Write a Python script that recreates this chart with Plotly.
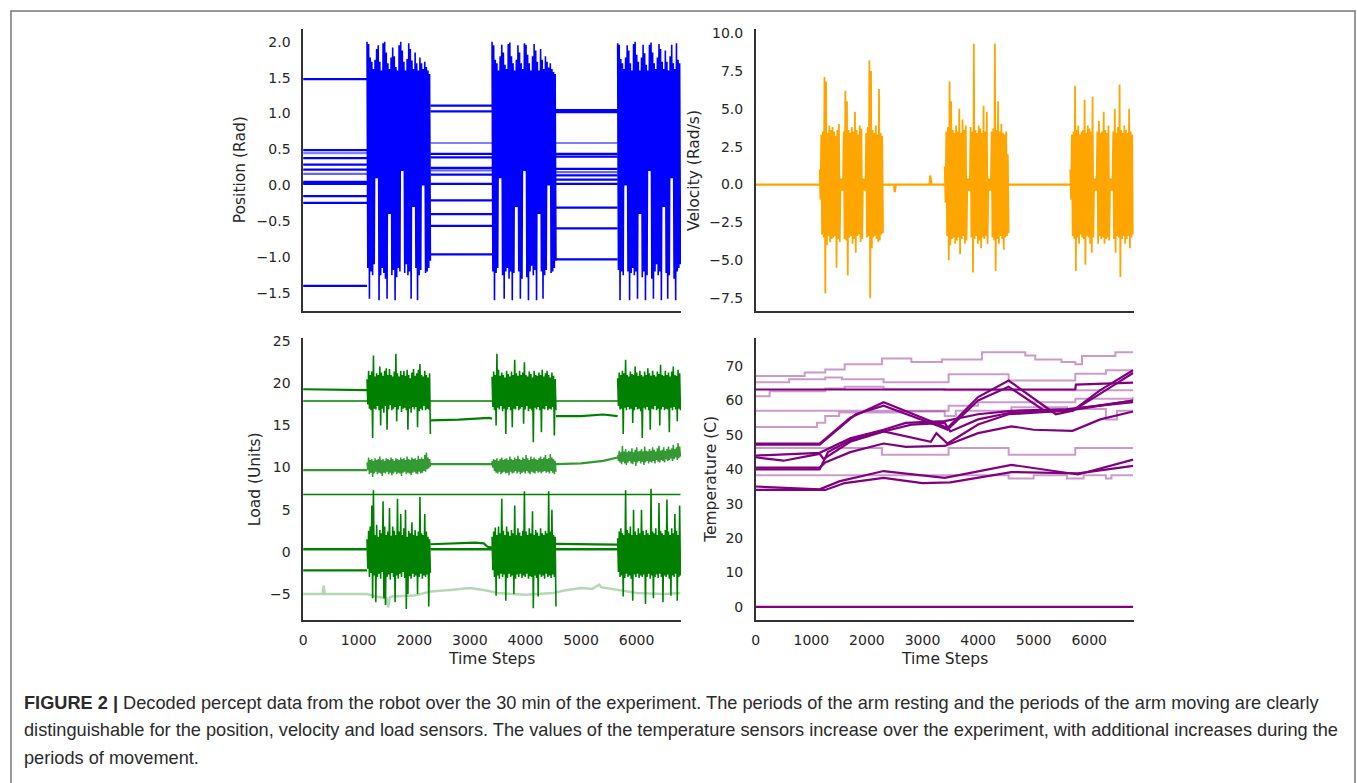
import numpy as np
import plotly.graph_objects as go

W, H = 1357, 783

# ---------------- time structure (time steps) ----------------
rest_periods = [(0, 1150), (2290, 3400), (4550, 5660)]
burst_periods = [(1150, 2290), (3400, 4550), (5660, 6790)]

# ---------------- Position (Rad) ----------------
pos_rest_levels = [
    [1.48, 1.11, 1.05],
    [0.49, 1.03, 1.02],
    [0.45, 0.59, 0.59],
    [0.38, 0.44, 0.44],
    [0.29, 0.39, 0.40],
    [0.22, 0.245, 0.23],
    [0.16, 0.21, 0.185],
    [0.05, 0.15, 0.14],
    [0.02, 0.02, 0.08],
    [0.03, -0.21, 0.02],
    [-0.15, -0.40, -0.31],
    [-0.245, -0.565, -0.60],
    [-1.40, -0.96, -1.03],
]
pos_rest_alpha = [1, 1, 0.5, 1, 1, 1, 0.6, 1, 1, 1, 1, 1, 1]

pos_burst_hi = [
    [2.00, 1.97, 1.78, 1.72, 1.62, 1.75, 1.90, 1.95, 1.72, 1.60, 1.98, 2.00, 1.85, 1.70, 1.62, 1.78, 1.92, 1.80, 1.65, 1.60,
     1.95, 2.00, 1.88, 1.72, 1.60, 1.76, 1.98, 1.90, 1.74, 1.62, 1.85, 1.70, 1.60, 1.78, 1.70, 1.62, 1.72, 1.65, 1.60, 1.55],
    [2.00, 1.95, 1.75, 1.70, 1.60, 1.80, 1.96, 1.85, 1.68, 1.62, 1.97, 1.99, 1.80, 1.70, 1.60, 1.75, 1.95, 1.85, 1.70, 1.62,
     1.98, 1.96, 1.82, 1.70, 1.60, 1.80, 1.97, 1.88, 1.72, 1.60, 1.90, 1.75, 1.62, 1.80, 1.72, 1.64, 1.70, 1.62, 1.58, 1.55],
    [1.98, 1.96, 1.76, 1.70, 1.62, 1.78, 1.95, 1.88, 1.70, 1.60, 1.97, 2.00, 1.82, 1.72, 1.60, 1.78, 1.96, 1.84, 1.68, 1.60,
     1.96, 1.99, 1.85, 1.70, 1.62, 1.78, 1.97, 1.90, 1.72, 1.62, 1.88, 1.72, 1.60, 1.80, 1.96, 1.70, 1.62, 1.98, 1.75, 1.70],
]
pos_burst_lo = [
    [-1.15, -1.58, -1.20, -1.25, -1.10, 0.10, 0.10, -1.60, -1.25, -1.15, -1.22, -1.30, -1.58, -0.40, -0.40, -1.25, -1.18, -1.60, -1.28, -1.15,
     -1.20, 0.20, 0.20, -1.22, -1.10, -1.25, -1.20, -1.58, -0.30, -0.30, -1.15, -1.60, -1.25, -1.18, 0.00, 0.00, -1.22, -1.20, -1.15, -1.05],
    [-1.20, -1.60, -1.22, -1.15, 0.10, 0.10, -1.25, -1.58, -1.20, -1.15, -1.30, -1.20, -1.60, -1.22, -0.30, -0.30, -1.20, -1.58, -1.30, 0.20,
     0.20, -1.28, -1.60, -1.20, -1.12, -1.25, -1.18, -1.60, -0.40, -0.40, -1.20, -1.58, -1.25, -1.18, 0.00, 0.00, -1.22, -1.20, -1.15, -1.05],
    [-1.18, -1.60, -1.20, -1.25, 0.00, 0.00, -1.20, -1.60, -1.22, -1.15, -1.25, -1.20, -1.58, -0.40, -0.40, -1.28, -1.20, -1.60, -1.25, 0.20,
     0.20, -1.30, -1.58, -1.20, -1.10, -1.25, -1.20, -1.60, -0.30, -0.30, -1.22, -1.58, -1.25, 0.10, 0.10, -1.30, -1.60, -1.20, -1.15, -1.10],
]

# ---------------- Velocity (Rad/s) ----------------
vel_rest_times = [[0, 1150], [2290, 2490, 2500, 2520, 3130, 3140, 3160, 3400], [4550, 5660]]
vel_rest_values = [[0, 0], [0, 0, -0.5, 0, 0, 0.6, 0, 0], [0, 0]]

vel_burst_hi = [
    [1.0, 3.3, 3.5, 7.1, 6.8, 3.4, 3.9, 3.6, 3.8, 3.5, 3.2, 3.6, 4.0, 0.4, 0.4, 3.5, 6.2, 5.5, 3.6, 3.4,
     3.8, 3.5, 4.8, 3.6, 3.3, 3.9, 3.7, 0.4, 0.4, 3.4, 3.8, 8.2, 7.5, 3.6, 3.4, 3.9, 3.3, 6.3, 3.4, 3.2],
    [1.2, 3.5, 3.8, 6.8, 5.5, 3.6, 3.4, 3.9, 3.5, 5.0, 3.4, 4.3, 3.6, 3.9, 0.4, 0.4, 3.8, 3.5, 9.3, 3.6,
     3.4, 3.9, 3.7, 3.4, 5.2, 3.5, 4.8, 0.4, 0.4, 3.5, 3.7, 9.3, 3.6, 5.5, 3.5, 4.0, 3.4, 3.3, 3.5, 2.0],
    [1.0, 3.3, 3.5, 6.5, 3.6, 3.9, 3.3, 3.5, 3.6, 5.6, 3.4, 3.9, 3.7, 3.5, 5.8, 0.4, 0.4, 3.5, 4.2, 3.4,
     3.5, 4.8, 3.6, 3.4, 3.9, 0.4, 0.4, 3.5, 5.0, 3.4, 3.8, 6.6, 3.6, 3.4, 3.9, 3.6, 3.4, 5.0, 3.5, 3.3],
]
vel_burst_lo = [
    [-1.0, -3.3, -3.5, -7.2, -4.0, -3.4, -3.8, -3.6, -3.5, -3.4, -5.5, -3.6, -3.8, -0.4, -0.4, -3.6, -3.7, -6.0, -3.5, -3.4,
     -3.9, -3.6, -4.5, -3.4, -3.3, -3.8, -3.6, -0.4, -0.4, -3.5, -3.4, -7.5, -4.2, -3.5, -3.4, -3.6, -3.8, -3.7, -3.3, -3.2],
    [-1.2, -3.4, -5.0, -4.0, -3.6, -3.5, -3.9, -3.7, -3.5, -4.6, -3.6, -3.4, -3.9, -3.7, -0.4, -0.4, -3.5, -5.8, -3.6, -3.4,
     -3.9, -3.7, -4.2, -3.5, -3.6, -3.4, -3.9, -0.4, -0.4, -3.5, -3.7, -5.7, -3.6, -3.9, -3.4, -3.6, -4.3, -3.5, -3.4, -3.2],
    [-1.0, -3.4, -3.6, -5.7, -3.5, -3.9, -3.3, -3.5, -3.6, -5.3, -3.4, -3.5, -3.9, -4.5, -3.5, -0.4, -0.4, -3.9, -3.4, -3.6,
     -3.5, -3.9, -3.6, -3.5, -3.7, -0.4, -0.4, -3.6, -4.5, -3.4, -3.5, -6.1, -3.6, -3.4, -3.9, -3.6, -3.4, -4.2, -3.5, -3.3],
]

# ---------------- Load (Units) ----------------
load_flat_levels = [17.9, 6.8]

load_top_rest_times = [[0, 1150], [2290, 2800, 3350, 3400], [4550, 5000, 5400, 5660]]
load_top_rest_values = [[19.3, 19.2], [15.6, 15.7, 15.9, 15.8], [16.1, 16.1, 16.3, 16.1]]
load_top_hi = [
    [20.5, 21.5, 21.0, 21.4, 23.3, 20.8, 21.2, 21.0, 22.0, 21.3, 20.9, 21.5, 21.8, 21.0, 21.7, 21.0, 20.8, 21.4, 23.5, 21.2,
     20.8, 21.5, 21.0, 21.5, 20.9, 21.6, 21.0, 20.6, 21.3, 21.7, 20.9, 21.2, 21.6, 22.3, 21.0, 20.8, 21.5, 21.0, 20.7, 21.2],
    [20.8, 21.4, 21.0, 23.5, 21.6, 20.9, 21.3, 21.0, 20.7, 21.5, 21.1, 20.8, 21.4, 21.0, 22.8, 21.2, 20.9, 21.5, 21.0, 21.3,
     22.5, 21.0, 20.8, 21.4, 21.1, 20.7, 21.5, 21.0, 20.9, 21.3, 21.0, 21.6, 20.8, 21.2, 21.5, 21.0, 20.7, 21.3, 20.9, 20.5],
    [20.6, 21.3, 21.0, 21.5, 21.2, 22.8, 21.0, 20.8, 21.4, 21.1, 21.0, 22.0, 21.3, 20.9, 21.5, 21.0, 20.8, 21.4, 21.0, 21.8,
     21.2, 20.9, 21.5, 21.0, 20.8, 21.4, 21.1, 22.2, 21.0, 20.9, 21.5, 21.0, 21.3, 20.8, 21.4, 22.0, 21.0, 20.9, 21.6, 21.2],
]
load_top_lo = [
    [17.5, 17.0, 16.8, 13.5, 17.0, 16.9, 17.3, 16.8, 15.0, 17.0, 16.5, 17.3, 14.5, 16.9, 17.4, 16.8, 17.0, 17.2, 15.5, 16.9,
     17.3, 16.6, 17.0, 17.1, 16.8, 14.5, 17.0, 16.5, 17.2, 16.9, 17.2, 14.8, 16.7, 17.0, 16.8, 17.3, 16.8, 17.0, 16.9, 14.0],
    [17.2, 16.8, 15.0, 17.1, 16.9, 17.3, 16.7, 17.0, 14.0, 16.9, 17.2, 16.8, 14.8, 17.0, 16.9, 17.3, 16.8, 17.0, 17.2, 15.2,
     16.9, 17.3, 16.7, 17.0, 16.8, 13.0, 17.1, 16.9, 17.2, 16.8, 14.2, 17.0, 16.9, 17.3, 16.8, 17.0, 16.9, 17.2, 13.8, 16.8],
    [17.3, 16.9, 17.0, 14.0, 17.1, 16.8, 17.2, 16.9, 17.0, 15.3, 16.8, 17.2, 16.9, 17.0, 16.7, 13.5, 17.1, 16.9, 17.2, 16.8,
     14.5, 17.0, 16.9, 17.3, 16.8, 17.0, 15.0, 16.9, 17.2, 16.8, 17.0, 16.9, 14.2, 17.1, 16.8, 17.2, 16.9, 15.5, 17.0, 16.8],
]

load_mid_rest_times = [[0, 1150], [2290, 3400], [4550, 5000, 5400, 5660]]
load_mid_rest_values = [[9.7, 9.7], [10.4, 10.4], [10.4, 10.5, 10.8, 11.2]]
load_mid_hi = [
    [10.6, 11.2, 10.9, 11.0, 10.8, 11.1, 10.9, 11.0, 11.3, 10.9, 11.0, 10.8, 11.1, 11.0, 10.9, 11.2, 11.0, 10.8, 11.1, 11.0,
     10.9, 11.2, 11.0, 11.1, 10.9, 11.3, 11.0, 10.9, 11.2, 11.0, 11.1, 10.9, 11.4, 11.0, 11.2, 11.0, 11.5, 11.8, 11.2, 11.0],
    [10.8, 11.0, 10.9, 11.1, 10.8, 11.0, 11.2, 10.9, 11.0, 11.1, 10.9, 11.3, 11.0, 10.9, 11.2, 11.0, 11.4, 11.0, 10.9, 11.2,
     11.0, 11.5, 11.1, 10.9, 11.3, 11.0, 11.2, 11.0, 10.9, 11.1, 11.3, 11.0, 11.2, 11.5, 11.0, 11.1, 11.6, 11.2, 11.0, 10.8],
    [11.5, 12.0, 11.8, 12.6, 11.9, 12.2, 11.8, 12.0, 11.9, 12.3, 11.8, 12.1, 12.4, 11.9, 12.0, 12.2, 11.9, 12.5, 12.0, 11.9,
     12.2, 12.0, 12.4, 12.1, 11.9, 12.3, 12.6, 12.0, 12.1, 12.4, 12.0, 12.2, 12.5, 12.1, 12.3, 12.7, 12.2, 12.4, 12.9, 12.5],
]
load_mid_lo = [
    [9.7, 9.2, 9.4, 8.9, 9.3, 9.5, 9.2, 9.4, 9.3, 9.0, 9.4, 9.3, 9.5, 9.2, 9.4, 9.1, 9.3, 9.5, 9.2, 9.4,
     9.3, 9.0, 9.4, 9.5, 9.2, 9.4, 9.3, 9.1, 9.4, 9.5, 9.3, 9.2, 9.5, 9.3, 9.4, 9.6, 9.5, 9.8, 9.9, 10.1],
    [10.0, 9.6, 9.4, 9.3, 9.5, 9.2, 9.4, 9.5, 9.3, 9.4, 9.1, 9.5, 9.3, 9.4, 9.6, 9.3, 9.5, 9.2, 9.4, 9.5,
     9.3, 9.6, 9.4, 9.2, 9.5, 9.4, 9.3, 9.6, 9.4, 9.5, 9.3, 9.5, 9.6, 9.4, 9.5, 9.3, 9.6, 9.4, 9.2, 9.5],
    [10.8, 10.6, 10.4, 10.7, 10.5, 10.3, 10.6, 10.8, 10.5, 10.4, 10.7, 10.2, 10.6, 10.8, 10.5, 10.7, 10.3, 10.6, 10.8, 10.5,
     10.7, 10.6, 10.8, 10.5, 10.9, 10.7, 10.6, 10.9, 10.8, 10.6, 11.0, 10.8, 10.9, 11.1, 10.8, 11.0, 11.2, 10.9, 11.1, 11.3],
]

load_low_a_rest_values = [0.3, 0.3, 0.3]
load_low_b_rest_times = [[0, 1150], [2290, 2600, 3100, 3250, 3320, 3400], [4550, 5660]]
load_low_b_rest_values = [[-2.2, -2.2], [0.9, 1.0, 1.1, 1.0, 0.6, 0.5], [0.95, 0.85]]
load_low_hi = [
    [1.5, 2.5, 3.0, 5.5, 7.3, 2.0, 3.2, 1.8, 2.6, 2.2, 6.0, 3.0, 2.0, 2.4, 5.2, 1.9, 3.0, 2.5, 2.0, 6.3,
     2.4, 4.5, 2.0, 2.8, 5.0, 1.8, 2.5, 2.2, 3.5, 2.0, 2.6, 1.9, 2.4, 6.5, 2.2, 2.0, 4.5, 2.4, 1.8, 1.5],
    [1.8, 2.4, 2.9, 2.0, 3.0, 2.2, 6.3, 2.5, 2.0, 3.0, 2.4, 1.9, 2.6, 2.2, 5.5, 2.0, 2.8, 2.3, 1.9, 2.5,
     7.2, 2.4, 2.0, 2.8, 2.2, 4.8, 2.0, 2.6, 2.3, 1.9, 2.8, 2.2, 2.0, 2.5, 2.2, 7.2, 2.4, 5.0, 2.0, 1.8],
    [1.6, 2.4, 2.8, 2.2, 2.0, 7.3, 2.6, 2.2, 3.0, 2.0, 5.0, 2.4, 2.0, 2.8, 2.2, 5.0, 2.5, 2.0, 2.6, 2.2,
     2.0, 7.5, 2.4, 2.2, 2.8, 2.0, 5.8, 2.5, 2.2, 2.0, 2.6, 6.2, 2.4, 2.0, 2.8, 2.2, 4.5, 2.5, 2.0, 5.5],
]
load_low_lo = [
    [-2.0, -3.0, -2.5, -5.5, -2.8, -6.0, -3.0, -2.6, -3.2, -2.4, -5.5, -6.3, -3.0, -2.7, -3.3, -2.5, -3.0, -6.0, -2.8, -3.2,
     -2.6, -3.0, -2.4, -3.1, -6.8, -5.0, -2.9, -3.2, -2.6, -3.0, -2.8, -5.0, -3.0, -2.6, -3.2, -2.8, -3.0, -2.7, -6.5, -2.5],
    [-2.2, -3.0, -5.2, -2.8, -3.2, -2.6, -3.0, -2.7, -5.8, -3.1, -2.6, -3.0, -2.8, -5.0, -3.2, -2.7, -3.0, -2.6, -3.1, -2.8,
     -3.0, -2.6, -3.2, -2.9, -3.0, -6.7, -2.8, -3.1, -5.3, -2.7, -3.0, -2.8, -3.2, -2.6, -3.0, -2.8, -3.1, -2.7, -3.0, -6.5],
    [-2.4, -3.0, -2.8, -5.3, -3.1, -2.6, -3.0, -2.8, -3.2, -5.8, -2.7, -3.0, -2.6, -3.1, -2.8, -3.0, -2.7, -6.2, -3.0, -2.6,
     -3.2, -2.8, -5.5, -3.0, -2.7, -3.1, -2.6, -3.0, -6.0, -2.8, -3.0, -2.7, -3.2, -5.2, -2.8, -3.0, -2.6, -5.8, -3.0, -2.8],
]

load_light_times = [0, 350, 370, 390, 1150, 1300, 1500, 1530, 1560, 1600, 2000, 2300, 2700, 3000, 3300, 3500, 4000, 4500,
                    4700, 5000, 5200, 5330, 5360, 5450, 5700, 6000, 6500, 6790]
load_light_values = [-5.0, -5.0, -4.0, -5.0, -5.0, -5.3, -5.5, -6.6, -5.4, -5.3, -5.2, -4.7, -4.5, -4.3, -4.6, -4.9, -5.1,
                     -4.9, -4.6, -4.3, -4.4, -3.9, -4.2, -4.3, -4.5, -4.9, -5.0, -4.9]

# ---------------- Temperature (C) ----------------
temp_dark_times = [
    [0, 5750, 5760, 6790],
    [0, 1150, 1700, 2300, 3300, 3450, 4000, 4550, 5400, 5700, 6200, 6790],
    [0, 1150, 1800, 2300, 3300, 3450, 4000, 4550, 5200, 5700, 6200, 6790],
    [0, 500, 1150, 1220, 1700, 2300, 3150, 3250, 3450, 4000, 4550, 5500, 6790],
    [0, 1150, 1700, 2300, 2700, 3400, 4000, 4600, 5600, 6790],
    [0, 1150, 1250, 1700, 2300, 2700, 3400, 4000, 4600, 5000, 5700, 6200, 6790],
    [0, 1150, 1300, 1700, 2300, 2800, 3400, 3500, 4000, 4600, 5600, 6790],
    [0, 1150, 1500, 2300, 3400, 4000, 4600, 5800, 6790],
    [0, 1250, 1600, 2300, 3000, 3500, 4600, 5800, 6790],
    [0, 6790],
]
temp_dark_values = [
    [63.2, 63.2, 64.6, 65.2],
    [47.5, 47.5, 55.0, 59.5, 53.0, 52.0, 61.0, 65.8, 56.0, 57.0, 63.0, 68.8],
    [47.2, 47.2, 56.0, 58.5, 52.5, 51.5, 60.0, 64.0, 57.0, 57.0, 62.0, 68.0],
    [43.5, 42.5, 44.5, 43.0, 48.0, 51.0, 48.0, 50.5, 47.5, 53.0, 56.0, 57.0, 60.0],
    [44.0, 44.8, 49.0, 51.5, 53.5, 54.0, 56.0, 57.0, 57.5, 59.5],
    [40.5, 40.5, 42.0, 45.0, 47.5, 46.5, 46.8, 50.5, 52.5, 51.5, 51.2, 54.5, 56.8],
    [40.0, 40.0, 45.0, 48.5, 51.0, 53.0, 53.5, 51.0, 54.5, 56.5, 57.0, 60.0],
    [35.0, 34.2, 36.5, 39.5, 37.5, 39.5, 41.3, 38.5, 42.8],
    [34.0, 34.0, 36.0, 37.5, 36.0, 36.2, 39.2, 38.8, 41.0],
    [0.0, 0.0],
]
temp_light_times = [
    [0, 880, 1250, 1600, 2270, 2800, 3350, 4070, 4850, 5030, 5500, 5750, 5870, 6470, 6790],
    [0, 600, 1250, 1550, 2300, 3470, 4550, 5750, 6300, 6790],
    [0, 250, 1250, 1600, 2300, 3400, 6790],
    [0, 2270, 3470, 4550, 5750, 6790],
    [0, 4550, 5000, 5600, 5900, 6300, 6400, 6790],
    [0, 1100, 1250, 1500, 2600, 3400, 3600, 4600, 5600, 6300, 6500, 6790],
    [0, 3470, 4000, 5750, 6790],
]
temp_light_values = [
    [67.1, 68.1, 69.0, 70.5, 72.2, 71.2, 71.9, 74.0, 73.1, 71.9, 71.2, 70.5, 72.9, 74.0, 74.0],
    [65.3, 66.2, 66.7, 66.2, 65.3, 67.6, 65.8, 67.8, 68.8, 68.8],
    [61.2, 62.7, 63.5, 64.0, 63.3, 63.0, 63.0],
    [46.2, 44.2, 46.2, 44.2, 46.2, 46.2],
    [38.3, 37.3, 38.3, 37.3, 38.3, 37.3, 38.3, 38.3],
    [52.3, 53.5, 55.5, 56.5, 56.8, 55.5, 57.0, 58.0, 57.5, 54.5, 57.0, 57.0],
    [57.0, 58.5, 59.5, 60.5, 61.0],
]

# ---------------- tick labels ----------------
x_ticks = [0, 1000, 2000, 3000, 4000, 5000, 6000]
x_labels = ["0", "1000", "2000", "3000", "4000", "5000", "6000"]
pos_ticks = [-1.5, -1.0, -0.5, 0.0, 0.5, 1.0, 1.5, 2.0]
pos_labels = ["\u22121.5", "\u22121.0", "\u22120.5", "0.0", "0.5", "1.0", "1.5", "2.0"]
vel_ticks = [-7.5, -5.0, -2.5, 0.0, 2.5, 5.0, 7.5, 10.0]
vel_labels = ["\u22127.5", "\u22125.0", "\u22122.5", "0.0", "2.5", "5.0", "7.5", "10.0"]
load_ticks = [-5, 0, 5, 10, 15, 20, 25]
load_labels = ["\u22125", "0", "5", "10", "15", "20", "25"]
temp_ticks = [0, 10, 20, 30, 40, 50, 60, 70]
temp_labels = ["0", "10", "20", "30", "40", "50", "60", "70"]

caption_lines = [
    "<b>FIGURE 2 |</b> Decoded percept data from the robot over the 30 min of the experiment. The periods of the arm resting and the periods of the arm moving are clearly",
    "distinguishable for the position, velocity and load sensors. The values of the temperature sensors increase over the experiment, with additional increases during the",
    "periods of movement.",
]

# ---------------- colours ----------------
BLUE = "rgb(0,0,255)"
ORANGE = "rgb(255,165,0)"
GREEN = "rgb(0,128,0)"
PURPLE = "rgb(128,0,128)"

fig = go.Figure()


def zigzag(period, hi, lo):
    t0, t1 = period
    n = len(hi)
    xs = np.linspace(t0, t1, 2 * n)
    ys = []
    for h, l in zip(hi, lo):
        ys.extend([h, l])
    return xs, ys


def add_line(x, y, color, width, xa, ya, shape="linear", opacity=1.0):
    fig.add_trace(go.Scatter(x=x, y=y, mode="lines", line=dict(color=color, width=width, shape=shape),
                             opacity=opacity, xaxis=xa, yaxis=ya, showlegend=False, hoverinfo="skip"))


# Position
for lv, al in zip(pos_rest_levels, pos_rest_alpha):
    xs, ys = [], []
    for (a, b), v in zip(rest_periods, lv):
        xs += [a, b, None]
        ys += [v, v, None]
    add_line(xs, ys, BLUE, 2.2, "x", "y", opacity=al)
for p, hi, lo in zip(burst_periods, pos_burst_hi, pos_burst_lo):
    xs, ys = zigzag(p, hi, lo)
    add_line(xs, ys, BLUE, 1.6, "x", "y")

# Velocity
for tt, vv in zip(vel_rest_times, vel_rest_values):
    add_line(tt, vv, ORANGE, 2.2, "x2", "y2")
for p, hi, lo in zip(burst_periods, vel_burst_hi, vel_burst_lo):
    xs, ys = zigzag(p, hi, lo)
    add_line(xs, ys, ORANGE, 1.8, "x2", "y2")

# Load
add_line(load_light_times, load_light_values, "rgba(0,128,0,0.3)", 2.5, "x3", "y3")
for lv in load_flat_levels:
    add_line([0, 6790], [lv, lv], GREEN, 1.5, "x3", "y3")
for tt, vv in zip(load_mid_rest_times, load_mid_rest_values):
    add_line(tt, vv, "rgba(0,128,0,0.8)", 2.2, "x3", "y3")
for p, hi, lo in zip(burst_periods, load_mid_hi, load_mid_lo):
    xs, ys = zigzag(p, hi, lo)
    add_line(xs, ys, "rgba(0,128,0,0.8)", 1.5, "x3", "y3")
for tt, vv in zip(load_top_rest_times, load_top_rest_values):
    add_line(tt, vv, GREEN, 2.2, "x3", "y3")
for p, hi, lo in zip(burst_periods, load_top_hi, load_top_lo):
    xs, ys = zigzag(p, hi, lo)
    add_line(xs, ys, GREEN, 1.6, "x3", "y3")
for (a, b), v in zip(rest_periods, load_low_a_rest_values):
    add_line([a, b], [v, v], GREEN, 2.6, "x3", "y3")
for tt, vv in zip(load_low_b_rest_times, load_low_b_rest_values):
    add_line(tt, vv, GREEN, 2.2, "x3", "y3")
for p, hi, lo in zip(burst_periods, load_low_hi, load_low_lo):
    xs, ys = zigzag(p, hi, lo)
    add_line(xs, ys, GREEN, 1.6, "x3", "y3")

# Temperature
for tt, vv in zip(temp_light_times, temp_light_values):
    add_line(tt, vv, "rgba(128,0,128,0.4)", 2, "x4", "y4", shape="hv")
for tt, vv in zip(temp_dark_times, temp_dark_values):
    add_line(tt, vv, PURPLE, 2.2, "x4", "y4")

# ---------------- layout ----------------
def px_x(a, b):
    return [a / W, b / W]


def px_y(top, bottom):
    return [1 - bottom / H, 1 - top / H]


TICKFONT = dict(family="DejaVu Sans", size=14, color="#262626")
axis_common = dict(showgrid=False, zeroline=False, showline=True, linecolor="#333333", linewidth=1.5,
                   ticks="", tickfont=TICKFONT)

left_x, right_x = px_x(300, 679), px_x(754, 1133)
top_y, bot_y = px_y(24, 308), px_y(335, 619)
XR = [0, 6800]

fig.update_layout(
    width=W, height=H, margin=dict(l=0, r=0, t=0, b=0),
    paper_bgcolor="white", plot_bgcolor="white", showlegend=False,
    xaxis=dict(domain=left_x, anchor="y", range=XR, showticklabels=False, **axis_common),
    yaxis=dict(domain=top_y, anchor="x", range=[-1.75, 2.18], tickvals=pos_ticks, ticktext=pos_labels,
               ticklabelstandoff=8, **axis_common),
    xaxis2=dict(domain=right_x, anchor="y2", range=XR, showticklabels=False, **axis_common),
    yaxis2=dict(domain=top_y, anchor="x2", range=[-8.35, 10.28], tickvals=vel_ticks, ticktext=vel_labels,
                ticklabelstandoff=8, **axis_common),
    xaxis3=dict(domain=left_x, anchor="y3", range=XR, tickvals=x_ticks, ticktext=x_labels,
                ticklabelstandoff=6, **axis_common),
    yaxis3=dict(domain=bot_y, anchor="x3", range=[-8.1, 25.4], tickvals=load_ticks, ticktext=load_labels,
                ticklabelstandoff=8, **axis_common),
    xaxis4=dict(domain=right_x, anchor="y4", range=XR, tickvals=x_ticks, ticktext=x_labels,
                ticklabelstandoff=6, **axis_common),
    yaxis4=dict(domain=bot_y, anchor="x4", range=[-3.8, 78.2], tickvals=temp_ticks, ticktext=temp_labels,
                ticklabelstandoff=8, **axis_common),
)

TITLEFONT = dict(family="DejaVu Sans", size=15.5, color="#262626")
annots = [
    ("Position (Rad)", 237, 166, -90),
    ("Velocity (Rad/s)", 692, 166, -90),
    ("Load (Units)", 252, 477, -90),
    ("Temperature (C)", 709, 477, -90),
    ("Time Steps", 489, 658, 0),
    ("Time Steps", 943, 658, 0),
]
for txt, xp, yp, ang in annots:
    fig.add_annotation(text=txt, x=xp / W, y=1 - yp / H, xref="paper", yref="paper", showarrow=False,
                       textangle=ang, font=TITLEFONT, xanchor="center", yanchor="middle")

for i, (line, yp) in enumerate(zip(caption_lines, [702, 730, 758])):
    fig.add_annotation(text=line, x=18 / W, y=1 - yp / H, xref="paper", yref="paper", showarrow=False,
                       xanchor="left", yanchor="middle", align="left",
                       font=dict(family="Liberation Sans, Arial", size=18.2, color="#2a2a2a"))

# outer frame
fig.add_shape(type="rect", xref="paper", yref="paper", x0=7 / W, x1=1355 / W, y0=-0.05, y1=1 - 6 / H,
              line=dict(color="#777777", width=1.5), fillcolor="rgba(0,0,0,0)")

post = ("document.documentElement.style.margin='0px';document.body.style.margin='0px';"
        "document.body.style.padding='0px';document.body.style.overflow='hidden';"
        "var d=document.getElementById('{plot_id}');d.style.position='absolute';"
        "d.style.left='0px';d.style.top='0px';")
fig.write_html("out.html", config={"displayModeBar": False}, post_script=post)
